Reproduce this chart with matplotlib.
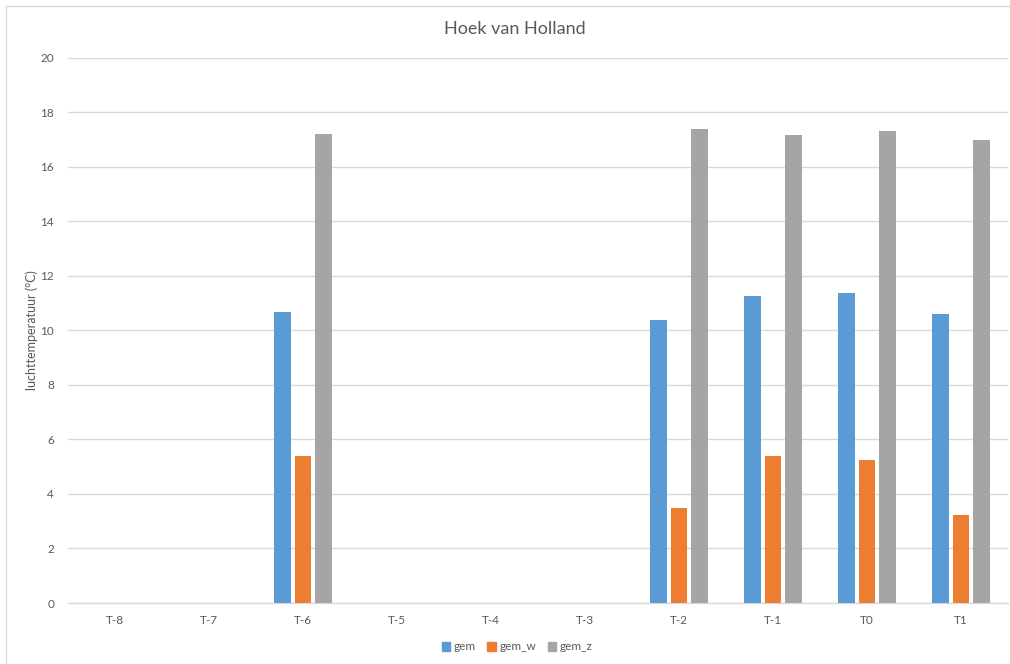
import matplotlib
matplotlib.use("Agg")
import matplotlib.pyplot as plt
from matplotlib.lines import Line2D
import numpy as np

categories = ["T-8", "T-7", "T-6", "T-5", "T-4", "T-3", "T-2", "T-1", "T0", "T1"]
gem = [0, 0, 10.67, 0, 0, 0, 10.39, 11.25, 11.36, 10.60]
gem_w = [0, 0, 5.38, 0, 0, 0, 3.47, 5.38, 5.26, 3.21]
gem_z = [0, 0, 17.20, 0, 0, 0, 17.39, 17.17, 17.31, 16.97]
series_names = ["gem", "gem_w", "gem_z"]
colors = ["#5B9BD5", "#ED7D31", "#A5A5A5"]
yticks = [0, 2, 4, 6, 8, 10, 12, 14, 16, 18, 20]

plt.rcParams["font.family"] = ["Lato", "DejaVu Sans"]

fig = plt.figure(figsize=(10.10, 6.64), dpi=100)
ax = fig.add_axes([68 / 1010, 1 - 603 / 664, (1008 - 68) / 1010, (603 - 57.5) / 664])

x = np.arange(len(categories))
width = 0.176
step = 0.218
for i, (vals, name, col) in enumerate(zip([gem, gem_w, gem_z], series_names, colors)):
    mask = np.array(vals) > 0
    ax.bar(x[mask] + (i - 1) * step, np.array(vals)[mask], width=width,
           color=col, label=name, zorder=3)

ax.set_xlim(-0.5, len(categories) - 0.5)
ax.set_ylim(0, 20)
ax.set_yticks(yticks)
ax.set_xticks(x)
ax.set_xticklabels(categories)
ax.yaxis.grid(True, color="#D9D9D9", linewidth=1.0, zorder=0)
ax.tick_params(axis="both", length=0, colors="#595959", labelsize=8.5)
ax.tick_params(axis="x", pad=9)
ax.tick_params(axis="y", pad=10)
for side in ["left", "right", "top"]:
    ax.spines[side].set_visible(False)
ax.spines["bottom"].set_color("#D9D9D9")
ax.spines["bottom"].set_linewidth(1.0)

ax.set_ylabel("luchttemperatuur (°C)", fontsize=9, color="#595959")
ax.yaxis.set_label_coords(-(68 - 38) / 940, 0.5)

fig.text(515 / 1010, 1 - 29 / 664, "Hoek van Holland", ha="center", va="center",
         fontsize=13, color="#595959")

handles = [plt.Rectangle((0, 0), 1, 1, color=c) for c in colors]
fig.legend(handles, series_names, loc="center", bbox_to_anchor=(517 / 1010, 1 - 647 / 664),
           ncol=3, frameon=False, fontsize=8.5, handlelength=0.7, handleheight=0.7,
           handletextpad=0.3, columnspacing=1.0, labelcolor="#595959")

# chart area border (left and top edges)
fig.add_artist(Line2D([6 / 1010, 6 / 1010], [0, 1 - 6 / 664], transform=fig.transFigure,
                      color="#D9D9D9", linewidth=1.0))
fig.add_artist(Line2D([6 / 1010, 1], [1 - 6 / 664, 1 - 6 / 664], transform=fig.transFigure,
                      color="#D9D9D9", linewidth=1.0))

fig.savefig("out.png", dpi=100, facecolor="white")
